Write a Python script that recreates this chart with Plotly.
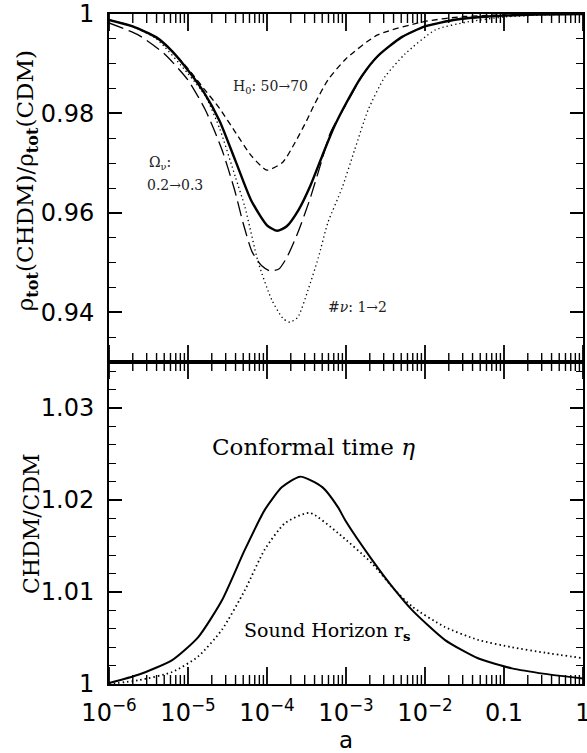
import math
import plotly.graph_objects as go

# ---------------- data (log10 a, ratio) ----------------
# Top panel: rho_tot(CHDM)/rho_tot(CDM)
solid_top_loga = [-6.0, -5.7, -5.4, -5.2, -5.0, -4.8, -4.6, -4.4, -4.2, -4.0, -3.87, -3.75, -3.6, -3.45,
                  -3.3, -3.15, -3.0, -2.8, -2.6, -2.3, -2.0, -1.6, -1.2, -0.6, 0.0]
solid_top_val = [0.9988, 0.9975, 0.9953, 0.9925, 0.9887, 0.9843, 0.9785, 0.9705, 0.9625, 0.9575, 0.9564,
                 0.9573, 0.9606, 0.9655, 0.9715, 0.9773, 0.9820, 0.9875, 0.9915, 0.9953, 0.9975, 0.9989,
                 0.9995, 0.9999, 1.0000]

h0_loga = [-6.0, -5.7, -5.4, -5.2, -5.0, -4.8, -4.6, -4.4, -4.2, -4.0, -3.8, -3.65, -3.5, -3.4, -3.23,
           -3.0, -2.6, -2.0, -1.5, -0.8, 0.0]
h0_val = [0.9988, 0.9975, 0.9953, 0.9925, 0.9890, 0.9850, 0.9810, 0.9762, 0.9715, 0.9686, 0.9702, 0.9740,
          0.9785, 0.9818, 0.9867, 0.9910, 0.9958, 0.9985, 0.9995, 0.9999, 1.0000]

omnu_loga = [-6.0, -5.63, -5.3, -5.0, -4.78, -4.57, -4.41, -4.3, -4.19, -4.07, -3.96, -3.85, -3.75, -3.61,
             -3.46, -3.33, -3.2, -3.0, -2.8, -2.6, -2.3, -2.0, -1.6, -1.2, -0.6, 0.0]
omnu_val = [0.9982, 0.9958, 0.9920, 0.9867, 0.9807, 0.9727, 0.9646, 0.9578, 0.9522, 0.9494, 0.9483, 0.9487,
            0.9510, 0.9560, 0.9626, 0.9693, 0.9760, 0.9818, 0.9874, 0.9915, 0.9953, 0.9975, 0.9989,
            0.9995, 0.9999, 1.0000]

nnu_loga = [-6.0, -5.7, -5.4, -5.0, -4.78, -4.6, -4.4, -4.28, -4.11, -3.94, -3.8, -3.71, -3.61, -3.48,
            -3.35, -3.23, -3.05, -2.89, -2.72, -2.51, -2.25, -1.87, -1.46, -1.0, -0.5, 0.0]
nnu_val = [0.9988, 0.9975, 0.9950, 0.9880, 0.9835, 0.9770, 0.9672, 0.9612, 0.9500, 0.9425, 0.9388, 0.9380,
           0.9390, 0.9445, 0.9510, 0.9580, 0.9650, 0.9727, 0.9807, 0.9873, 0.9920, 0.9968, 0.9984,
           0.9994, 0.9998, 1.0000]

# Bottom panel: CHDM/CDM
eta_loga = [-6.0, -5.63, -5.2, -4.87, -4.57, -4.28, -4.03, -3.81, -3.58, -3.3, -3.1, -3.01, -2.67, -2.38,
            -2.16, -1.75, -1.33, -0.9, -0.48, 0.0]
eta_val = [1.0001, 1.0010, 1.0026, 1.0051, 1.0091, 1.0146, 1.0189, 1.0214, 1.02254, 1.0214, 1.0192, 1.0178,
           1.0135, 1.0102, 1.0080, 1.0048, 1.0028, 1.0017, 1.0011, 1.0006]

rs_loga = [-6.0, -5.63, -5.2, -4.87, -4.57, -4.28, -4.03, -3.77, -3.46, -3.1, -2.67, -2.38, -2.16, -1.75,
           -1.33, -0.9, -0.48, 0.0]
rs_val = [1.0000, 1.0004, 1.0013, 1.0030, 1.0059, 1.0102, 1.0146, 1.0175, 1.0186, 1.0164, 1.0131, 1.0102,
          1.0084, 1.0062, 1.0048, 1.0040, 1.0034, 1.0028]

x_tick_vals = [1e-6, 1e-5, 1e-4, 1e-3, 1e-2, 0.1, 1]
x_tick_text = ["10<sup>−6</sup>", "10<sup>−5</sup>", "10<sup>−4</sup>", "10<sup>−3</sup>",
               "10<sup>−2</sup>", "0.1", "1"]
top_range = [0.93, 1.0]
top_tick_vals = [0.94, 0.96, 0.98, 1.0]
top_tick_text = ["0.94", "0.96", "0.98", "1"]
bot_range = [1.0, 1.035]
bot_tick_vals = [1.0, 1.01, 1.02, 1.03]
bot_tick_text = ["1", "1.01", "1.02", "1.03"]

X_LOG_MIN, X_LOG_MAX = -6, 0
TOP_PX, BOT_PX = 348, 322  # panel heights in pixels (for converting tick lengths)


def to_a(lv):
    return [10 ** v for v in lv]


fig = go.Figure()
thin = 1.3
fig.add_trace(go.Scatter(x=to_a(h0_loga), y=h0_val, mode="lines", xaxis="x", yaxis="y",
                         line=dict(color="black", width=thin, dash="6px,4px", shape="spline", smoothing=0.6)))
fig.add_trace(go.Scatter(x=to_a(omnu_loga), y=omnu_val, mode="lines", xaxis="x", yaxis="y",
                         line=dict(color="black", width=thin, dash="15px,6px", shape="spline", smoothing=0.6)))
fig.add_trace(go.Scatter(x=to_a(nnu_loga), y=nnu_val, mode="lines", xaxis="x", yaxis="y",
                         line=dict(color="black", width=1.3, dash="1.3px,3px", shape="spline", smoothing=0.6)))
fig.add_trace(go.Scatter(x=to_a(solid_top_loga), y=solid_top_val, mode="lines", xaxis="x", yaxis="y",
                         line=dict(color="black", width=2.4, shape="spline", smoothing=0.6)))

fig.add_trace(go.Scatter(x=to_a(rs_loga), y=rs_val, mode="lines", xaxis="x2", yaxis="y2",
                         line=dict(color="black", width=1.8, dash="1.5px,3px", shape="spline", smoothing=0.6)))
fig.add_trace(go.Scatter(x=to_a(eta_loga), y=eta_val, mode="lines", xaxis="x2", yaxis="y2",
                         line=dict(color="black", width=2.0, shape="spline", smoothing=0.6)))

# x-axis tick marks (decades + 2..9) on each horizontal frame edge, pointing inward
minor_x = [m * 10 ** e for e in range(X_LOG_MIN, X_LOG_MAX) for m in range(2, 10)]
for xa, ya, rng, px in (("x", "y", top_range, TOP_PX), ("x2", "y2", bot_range, BOT_PX)):
    unit = (rng[1] - rng[0]) / px
    for vals, length, width in ((x_tick_vals, 17, 1.8), (minor_x, 9, 1.4)):
        xs, ys = [], []
        for v in vals:
            xs += [v, v, None, v, v, None]
            ys += [rng[0], rng[0] + length * unit, None, rng[1], rng[1] - length * unit, None]
        fig.add_trace(go.Scatter(x=xs, y=ys, mode="lines", xaxis=xa, yaxis=ya, hoverinfo="skip",
                                 connectgaps=False, cliponaxis=False,
                                 line=dict(color="black", width=width, simplify=False)))

sans = "DejaVu Sans"
serif = "DejaVu Serif"

xcommon = dict(type="log", range=[X_LOG_MIN, X_LOG_MAX], showline=True, linecolor="black", linewidth=2,
               mirror=True, ticks="", showgrid=False, zeroline=False, automargin=False)

ycommon = dict(showline=True, linecolor="black", linewidth=2, mirror="allticks",
               ticks="inside", ticklen=13, tickwidth=1.5, tickcolor="black", showgrid=False, zeroline=False,
               tickfont=dict(family=sans, size=24, color="black"), ticklabelstandoff=8, automargin=False)

fig.update_layout(
    width=587, height=753,
    margin=dict(l=109, r=4, t=14, b=69),
    paper_bgcolor="white", plot_bgcolor="white",
    showlegend=False,
    xaxis=dict(domain=[0, 1], anchor="y", showticklabels=False, **xcommon),
    xaxis2=dict(domain=[0, 1], anchor="y2", tickvals=x_tick_vals, ticktext=x_tick_text,
                showticklabels=True, ticklabeloverflow="allow",
                tickfont=dict(family=sans, size=24, color="black"), ticklabelstandoff=6, **xcommon),
    yaxis=dict(domain=[0.4806, 1], anchor="x", range=top_range, tickvals=top_tick_vals,
               ticktext=top_tick_text,
               minor=dict(dtick=0.005, tick0=0.93, ticks="inside", ticklen=7, tickwidth=1.2,
                          tickcolor="black", showgrid=False), **ycommon),
    yaxis2=dict(domain=[0, 0.4806], anchor="x2", range=bot_range, tickvals=bot_tick_vals,
                ticktext=bot_tick_text,
                minor=dict(dtick=0.002, tick0=1.0, ticks="inside", ticklen=7, tickwidth=1.2,
                           tickcolor="black", showgrid=False), **ycommon),
)

ann = []
# axis titles
ann.append(dict(xref="paper", yref="paper", x=-0.173, y=0.752, textangle=-90, showarrow=False,
                text="ρ<sub><b>tot</b></sub>(CHDM)/ρ<sub><b>tot</b></sub>(CDM)",
                font=dict(family=serif, size=23, color="black"), xanchor="center", yanchor="middle"))
ann.append(dict(xref="paper", yref="paper", x=-0.165, y=0.240, textangle=-90, showarrow=False,
                text="CHDM/CDM", font=dict(family=serif, size=22, color="black"),
                xanchor="center", yanchor="middle"))
ann.append(dict(xref="paper", yref="paper", x=0.5, y=-0.0836, showarrow=False, text="a",
                font=dict(family=sans, size=23, color="black"), xanchor="center", yanchor="middle"))
# curve labels
small = dict(family=serif, size=14, color="#222")
ann.append(dict(xref="x", yref="y", x=-3.96, y=0.9853, showarrow=False,
                text="H<sub>0</sub>: 50→70", font=small))
ann.append(dict(xref="x", yref="y", x=-5.35, y=0.9700, showarrow=False,
                text="Ω<sub>ν</sub>:", font=small))
ann.append(dict(xref="x", yref="y", x=-5.16, y=0.9656, showarrow=False,
                text="0.2→0.3", font=small))
ann.append(dict(xref="x", yref="y", x=-2.85, y=0.9411, showarrow=False,
                text="#<i>ν</i>: 1→2", font=small))
ann.append(dict(xref="x2", yref="y2", x=-3.41, y=1.0258, showarrow=False,
                text="Conformal time <i>η</i>", font=dict(family=serif, size=23, color="black")))
ann.append(dict(xref="x2", yref="y2", x=-3.23, y=1.0057, showarrow=False,
                text="Sound Horizon r<sub><b>s</b></sub>", font=dict(family=serif, size=19, color="black")))
fig.update_layout(annotations=ann)

fig.write_html("out.html", config={"displayModeBar": False},
               post_script="document.body.style.margin='0';document.body.style.overflow='hidden';")
